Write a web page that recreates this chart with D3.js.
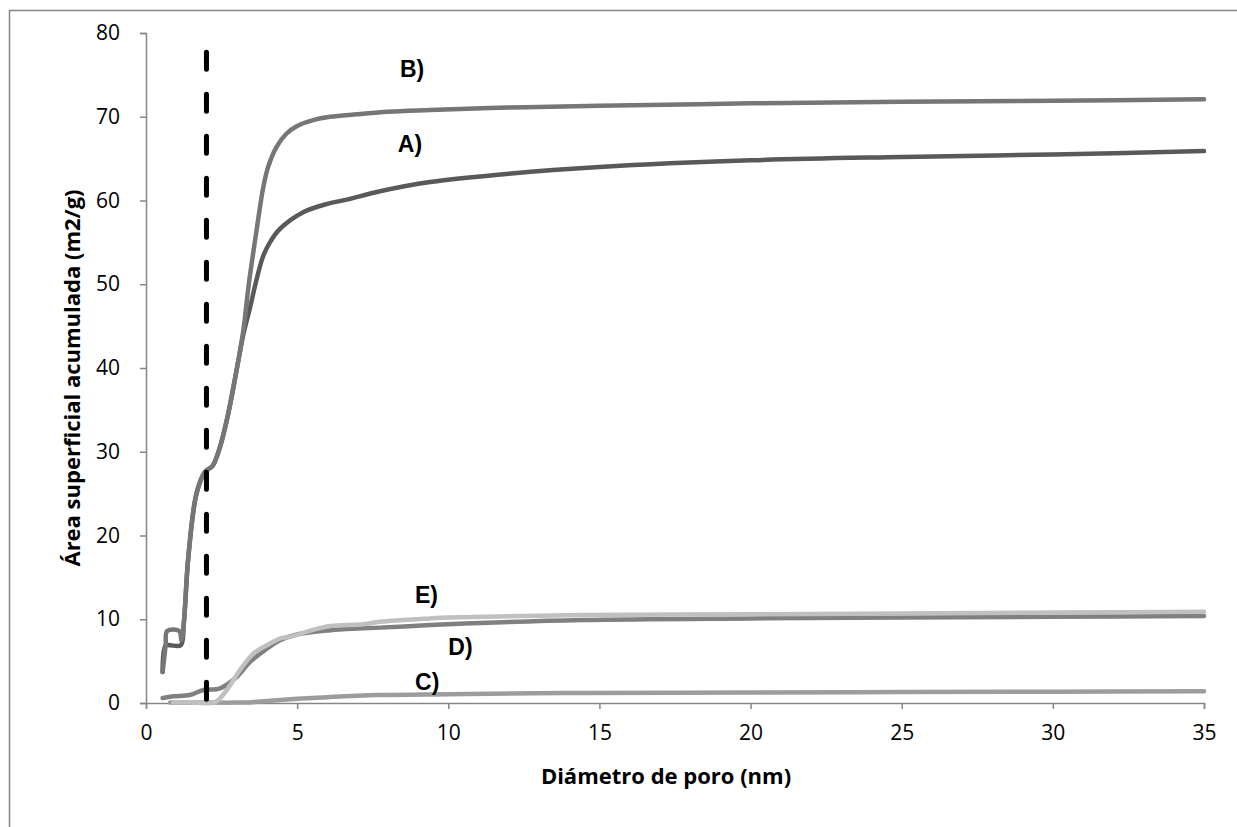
<!DOCTYPE html>
<html><head><meta charset="utf-8">
<script src="https://cdn.jsdelivr.net/npm/d3@7"></script>
<style>body{margin:0;background:#fff}svg{display:block}</style>
</head><body>
<svg id="c" width="1237" height="827"></svg>
<script>
// ---- data ----
const seriesNames = ["A)", "B)", "C)", "D)", "E)"];
const A_x = [0.55,0.65,0.8,1.15,1.25,1.4,1.67,1.95,2.2,2.45,2.7,3.0,3.22,3.44,3.66,3.88,4.1,4.43,5.2,6.0,6.64,7.74,9.4,12,15,20,25,30,35];
const A_y = [3.7,6.9,6.9,6.9,9.5,17.4,25,27.6,28.3,30.6,34.2,39.8,44.0,47.2,50.6,53.4,55.0,56.6,58.6,59.6,60.1,61.1,62.2,63.2,64.0,64.8,65.2,65.5,65.9];
const B_x = [0.55,0.65,0.7,1.1,1.17,1.25,1.4,1.67,1.95,2.2,2.45,2.7,3.0,3.22,3.4,3.66,3.88,4.04,4.32,4.65,5.0,5.53,6.09,7,8,9.4,12,15,20,25,30,35];
const B_y = [3.7,6.9,8.6,8.6,7.5,9.5,17.4,25,27.6,28.3,30.6,34.2,39.8,44.5,50,56.5,61.6,64.0,66.4,68.0,68.9,69.6,70.0,70.3,70.6,70.8,71.1,71.3,71.6,71.8,71.9,72.1];
const C_x = [0.8,2.0,3.0,3.5,4.0,5.0,6.0,7.7,10,14.4,20,25,30,35];
const C_y = [0.05,0.05,0.05,0.1,0.25,0.5,0.7,0.95,1.05,1.2,1.25,1.3,1.35,1.4];
const D_x = [0.55,0.9,1.45,1.9,2.45,3.0,3.44,4.0,4.43,5.0,6.09,7.0,7.74,9.4,10,14.4,20,25,30,35];
const D_y = [0.6,0.8,0.95,1.55,1.75,3.1,4.9,6.5,7.5,8.2,8.7,8.9,9.0,9.3,9.4,9.9,10.1,10.2,10.3,10.4];
const E_x = [0.9,1.5,2.28,2.67,3.1,3.55,4.0,4.43,4.76,5.5,6.09,7.2,7.74,9.4,10,14.4,20,25,30,35];
const E_y = [0.1,0.1,0.1,1.55,3.9,5.9,6.9,7.7,7.9,8.7,9.2,9.4,9.7,10.1,10.2,10.5,10.6,10.7,10.8,10.9];
const xTicks = [0,5,10,15,20,25,30,35];
const yTicks = [0,10,20,30,40,50,60,70,80];
const limitX = [2, 2];
const limitY = [77.7, 0];
const labelPos = [[8.33,65.8],[8.4,74.7],[8.9,1.55],[10.0,5.7],[8.9,11.9]]; // label baseline anchor (data units) for A..E
const xTitle = "Diámetro de poro (nm)";
const yTitle = "Área superficial acumulada (m2/g)";

// ---- chart ----
const svg = d3.select("#c");
const x = d3.scaleLinear().domain([0,35]).range([146,1204]);
const y = d3.scaleLinear().domain([0,80]).range([703,33]);
const axisCol = "#868686";

svg.append("rect").attr("x",9.5).attr("y",10.5).attr("width",1300).attr("height",900)
  .attr("fill","none").attr("stroke","#868686").attr("stroke-width",1.5);

const gx = svg.append("g").attr("transform","translate(0,703)")
  .call(d3.axisBottom(x).tickValues(xTicks).tickSize(6).tickPadding(16).tickFormat(d3.format("d")));
const gy = svg.append("g").attr("transform","translate(146,0)")
  .call(d3.axisLeft(y).tickValues(yTicks).tickSize(6).tickPadding(20).tickFormat(d3.format("d")));
[gx,gy].forEach(g=>{
  g.select(".domain").attr("stroke",axisCol).attr("stroke-width",1.5);
  g.selectAll(".tick line").attr("stroke",axisCol).attr("stroke-width",1.5);
  g.selectAll(".tick text").attr("fill","#000").style("font-family","'Open Sans', sans-serif").style("font-size","21px");
});

const line = d3.line().x(d=>x(d[0])).y(d=>y(d[1])).curve(d3.curveCatmullRom.alpha(0.5));
const seriesData = [
  {xs:A_x, ys:A_y, col:"#595959"},
  {xs:B_x, ys:B_y, col:"#767676"},
  {xs:C_x, ys:C_y, col:"#9c9c9c"},
  {xs:D_x, ys:D_y, col:"#808080"},
  {xs:E_x, ys:E_y, col:"#c0c0c0"}
];
seriesData.forEach(s=>{
  svg.append("path").datum(d3.zip(s.xs,s.ys)).attr("d",line)
    .attr("fill","none").attr("stroke",s.col).attr("stroke-width",4.5)
    .attr("stroke-linejoin","round").attr("stroke-linecap","round");
});

svg.append("line").attr("x1",x(limitX[0])).attr("x2",x(limitX[1]))
  .attr("y1",y(limitY[0])).attr("y2",y(limitY[1]))
  .attr("stroke","#000").attr("stroke-width",5).attr("stroke-linecap","round")
  .attr("stroke-dasharray","17,25");

seriesNames.forEach((n,i)=>{
  svg.append("text").attr("x",x(labelPos[i][0])).attr("y",y(labelPos[i][1]))
    .text(n).style("font-family","'Liberation Sans', Arial, sans-serif")
    .style("font-weight","bold").style("font-size","23px").attr("fill","#000");
});

svg.append("text").attr("x",666).attr("y",784).attr("text-anchor","middle")
  .text(xTitle).style("font-family","'Open Sans', sans-serif").style("font-weight","bold").style("font-size","22px");
svg.append("text").attr("transform","translate(80,378) rotate(-90)").attr("text-anchor","middle")
  .text(yTitle).style("font-family","'Open Sans', sans-serif").style("font-weight","bold").style("font-size","22px");
</script>
</body></html>
